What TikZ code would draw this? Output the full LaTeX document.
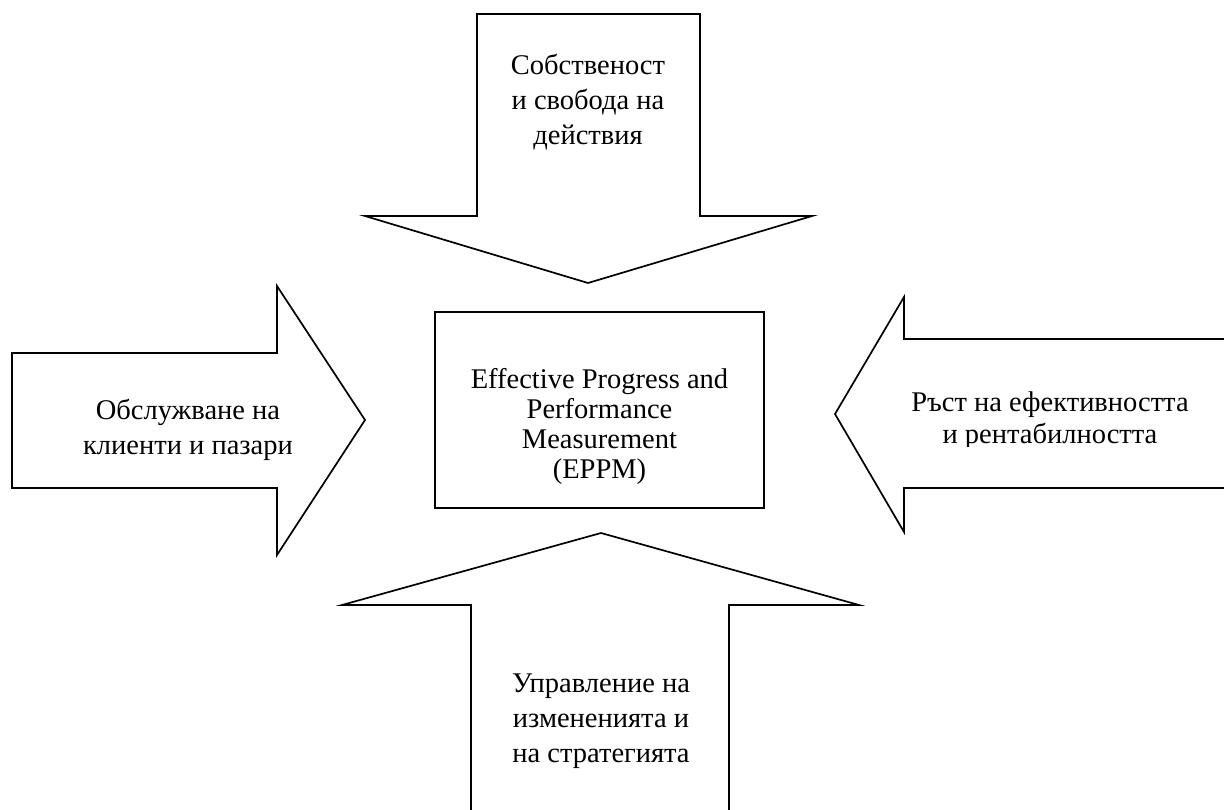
\documentclass[tikz,border=0pt]{standalone}
\usepackage{fontspec}
\setmainfont{Liberation Serif}
\begin{document}
\begin{tikzpicture}[x=1pt,y=-1pt,
  arrowshape/.style={draw=black,line width=1.7pt,line join=miter,fill=white},
  lbl/.style={align=center,inner sep=0pt,font=\fontsize{28.5}{35}\selectfont},
  boxlbl/.style={align=center,inner sep=0pt,font=\fontsize{28.5}{30}\selectfont},
  mainbox/.style={draw=black,line width=1.7pt,minimum width=329pt,minimum height=196pt,inner sep=0pt}]
\useasboundingbox (0,0) rectangle (1224,809);
\fill[white] (0,0) rectangle (1224,809);
% top arrow
\draw[arrowshape] (477,14) -- (700,14) -- (700,216) -- (812,216) -- (588,283) -- (365,216) -- (477,216) -- cycle;
% left arrow
\draw[arrowshape] (12,353) -- (277,353) -- (277,286) -- (365,420) -- (277,555) -- (277,488) -- (12,488) -- cycle;
% right arrow
\draw[arrowshape] (1232,339) -- (904,339) -- (904,297) -- (835,414) -- (904,532) -- (904,488) -- (1232,488);
% bottom arrow
\draw[arrowshape] (471,815) -- (471,605) -- (342,605) -- (601,533) -- (859,605) -- (729,605) -- (729,815);
% central box
\node[mainbox] (eppm) at (599.5,410) {};
\node[boxlbl] (eppmtxt) at (599.5,426) {Effective Progress and\\Performance\\Measurement\\(EPPM)};
% labels
\node[lbl] (toptxt) at (588,102) {Собственост\\и свобода на\\действия};
\node[lbl] (bottxt) at (601,721) {Управление на\\измененията и\\на стратегията};
\begin{scope}
\clip (0,300) rectangle (370,460);
\node[lbl] (lefttxt) at (188,430) {Обслужване на\\клиенти и пазари};
\end{scope}
\begin{scope}
\clip (850,300) rectangle (1224,446);
\node[lbl,font=\fontsize{28.5}{32}\selectfont] (righttxt) at (1050,421) {Ръст на ефективността\\и рентабилността};
\end{scope}
\end{tikzpicture}
\end{document}
